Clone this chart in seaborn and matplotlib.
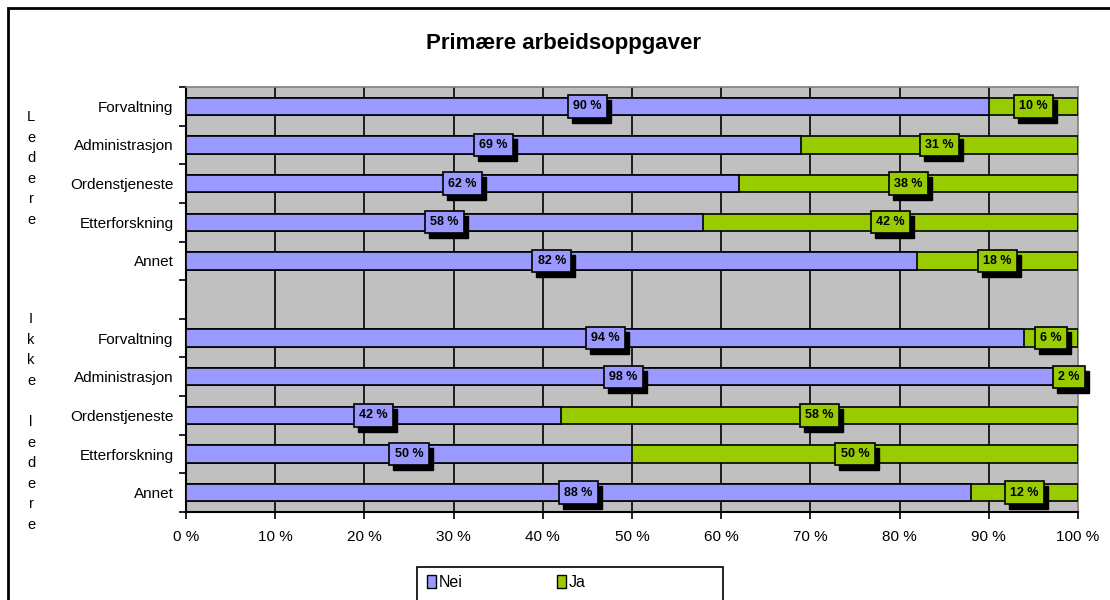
import matplotlib
matplotlib.use("Agg")
import matplotlib.pyplot as plt
import matplotlib.transforms as mtransforms
from matplotlib.patches import Rectangle, Patch
import seaborn as sns
import pandas as pd
import numpy as np

# ---- data ----
categories = ["Forvaltning", "Administrasjon", "Ordenstjeneste", "Etterforskning", "Annet"]
ledere_nei = [90, 69, 62, 58, 82]
ledere_ja = [10, 31, 38, 42, 18]
ikke_nei = [94, 98, 42, 50, 88]
ikke_ja = [6, 2, 58, 50, 12]
series_names = ["Nei", "Ja"]
x_ticks = [0, 10, 20, 30, 40, 50, 60, 70, 80, 90, 100]
x_tick_labels = [f"{v} %" for v in x_ticks]
group_labels = ["Ledere", "Ikke ledere"]
title = "Primære arbeidsoppgaver"

NEI_COLOR = "#9999FF"
JA_COLOR = "#99CC00"
BG = "#C0C0C0"

sns.set_theme(style="white")
plt.rcParams["font.family"] = ["Liberation Sans", "DejaVu Sans"]
plt.rcParams["text.color"] = "black"
plt.rcParams["axes.labelcolor"] = "black"
plt.rcParams["xtick.color"] = "black"
plt.rcParams["ytick.color"] = "black"

rows = []
for c, n, j in zip(categories, ledere_nei, ledere_ja):
    rows.append(dict(key="L_" + c, label=c, nei=n, ja=j))
for c, n, j in zip(categories, ikke_nei, ikke_ja):
    rows.append(dict(key="I_" + c, label=c, nei=n, ja=j))
df = pd.DataFrame(rows)
df["total"] = df["nei"] + df["ja"]
order = ["L_" + c for c in categories] + ["gap"] + ["I_" + c for c in categories]
tick_labels = categories + [""] + categories

fig = plt.figure(figsize=(11.1, 6.0), dpi=100)
ax = fig.add_axes([186 / 1110, 1 - 512 / 600, (1078 - 186) / 1110, (512 - 87) / 600])
ax.set_facecolor(BG)

sns.barplot(data=df, x="total", y="key", order=order, orient="h", color=JA_COLOR,
            saturation=1, width=0.45, edgecolor="black", linewidth=1.2, ax=ax, zorder=3)
sns.barplot(data=df, x="nei", y="key", order=order, orient="h", color=NEI_COLOR,
            saturation=1, width=0.45, edgecolor="black", linewidth=1.2, ax=ax, zorder=4)

ax.set_xlim(0, 100)
ax.set_ylim(10.5, -0.5)
ax.set_xlabel("")
ax.set_ylabel("")

# grid
ax.set_axisbelow(True)
for v in x_ticks[1:-1]:
    ax.axvline(v, color="black", lw=1.2, zorder=1)

ax.set_xticks(x_ticks)
ax.set_xticklabels(x_tick_labels, fontsize=11, color="black")
ax.set_yticks(range(len(order)))
ax.set_yticklabels(tick_labels, fontsize=11, color="black")
ax.set_yticks(np.arange(-0.5, len(order) + 0.5, 1), minor=True)
ax.tick_params(axis="y", which="major", length=0, pad=9)
ax.tick_params(axis="y", which="minor", length=5, width=1.2, color="black", direction="out", left=True)
ax.tick_params(axis="x", which="major", length=5, width=1.2, color="black", direction="out",
               bottom=True, pad=8)

for side in ["left", "bottom"]:
    ax.spines[side].set_color("black")
    ax.spines[side].set_linewidth(1.5)
for side in ["top", "right"]:
    ax.spines[side].set_color("#808080")
    ax.spines[side].set_linewidth(1.2)

# data labels with shadowed boxes
shadow_tr = mtransforms.offset_copy(ax.transData, fig=fig, x=4, y=-5, units="dots")
def label(x, y, txt, color):
    ax.text(x, y, txt, transform=shadow_tr, ha="center", va="center", fontsize=9,
            fontweight="bold", color="black", zorder=5,
            bbox=dict(boxstyle="square,pad=0.42", fc="black", ec="black", lw=1))
    ax.text(x, y, txt, ha="center", va="center", fontsize=9, fontweight="bold",
            color="black", zorder=6,
            bbox=dict(boxstyle="square,pad=0.42", fc=color, ec="black", lw=1.2))

for _, r in df.iterrows():
    y = order.index(r["key"])
    label(r["nei"] / 2, y, f"{r['nei']} %", NEI_COLOR)
    label(r["nei"] + r["ja"] / 2, y, f"{r['ja']} %", JA_COLOR)

# title
fig.text(0.508, 1 - 43 / 600, title, ha="center", va="center", fontsize=16,
         fontweight="bold", color="black")

# vertical group labels
fig.text(31 / 1110, 1 - 110 / 600, "\n".join(list(group_labels[0])), ha="center", va="top",
         fontsize=10.5, linespacing=1.6, color="black")
fig.text(31 / 1110, 1 - 312 / 600, "\n".join(list(group_labels[1])), ha="center", va="top",
         fontsize=10.5, linespacing=1.6, color="black")

# legend (frame drawn separately)
handles = [Patch(facecolor=NEI_COLOR, edgecolor="black", label=series_names[0]),
           Patch(facecolor=JA_COLOR, edgecolor="black", label=series_names[1])]
leg = fig.legend(handles=handles, loc="upper left",
                 bbox_to_anchor=(422 / 1110, 1 - 570 / 600),
                 ncol=2, fontsize=11.5, frameon=False,
                 handlelength=0.6, handleheight=0.9, handletextpad=0.15, borderpad=0.3,
                 columnspacing=5.9, borderaxespad=0)
for t in leg.get_texts():
    t.set_color("black")
fig.patches.append(Rectangle((417 / 1110, -0.1), (723 - 417) / 1110, 0.1 + 1 - 567 / 600,
                             transform=fig.transFigure, fill=True, facecolor="white",
                             edgecolor="black", lw=1.2, zorder=0))

# outer chart border
fig.patches.append(Rectangle((8 / 1110, -0.2), 1.2, 1 - 8 / 600 + 0.2, transform=fig.transFigure,
                             fill=False, edgecolor="black", lw=2, zorder=0))

fig.savefig("out.png", dpi=100)
